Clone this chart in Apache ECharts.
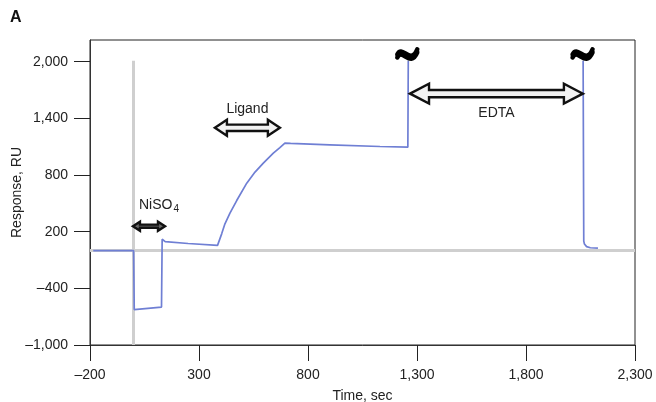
<!DOCTYPE html>
<html>
<head>
<meta charset="utf-8">
<script src="https://cdn.jsdelivr.net/npm/echarts@6/dist/echarts.min.js"></script>
<style>
  html, body { margin: 0; padding: 0; background: #fff; }
  #chart { width: 656px; height: 402px; }
</style>
</head>
<body>
<div id="chart"></div>
<script>
// SPR sensorgram: Ni2+ charging, ligand capture, EDTA regeneration
const sensorTime = [-185, 0, 3, 128, 131, 145, 250, 385,
  388, 404, 419, 442, 473, 519, 557, 595, 641, 671, 694,
  720, 900, 1130, 1258, 1260,
  1700,
  2062, 2065, 2068, 2078, 2095, 2130];
const sensorResp = [0, 0, -625, -598, 120, 95, 75, 55,
  55, 177, 283, 396, 530, 714, 831, 926, 1032, 1091, 1138,
  1135, 1120, 1102, 1095, 2010,
  null,
  2010, 100, 70, 42, 30, 26];

// injection periods (sec)
const injectionNames = ['NiSO4', 'Ligand', 'EDTA'];
const injectionStart = [-3, 373, 1268];
const injectionEnd = [144, 671, 2061];

// off-scale break markers (sec)
const breakTimes = [1260, 2064];

const xTicks = [-200, 300, 800, 1300, 1800, 2300];
const yTicks = [-1000, -400, 200, 800, 1400, 2000];

const FONT = 'Liberation Sans, Arial, Helvetica, sans-serif';
const fmt = v => (v < 0 ? '\u2013' : '') + Math.abs(v).toLocaleString('en-US');

const lineData = sensorTime.map((t, i) =>
  sensorResp[i] === null ? [t, '-'] : [t, sensorResp[i]]);

// arrow drawing parameters per injection
const arrowStyle = [
  { level: 258, L: 7, H: 4.5, s: 1.6, fill: '#6a6a6a', lw: 2.4, dy: -21 },
  { level: 1300, L: 12, H: 8, s: 3.2, fill: '#f2f2f2', lw: 2.4, dy: -19 },
  { level: 1662, L: 19, H: 10, s: 3.6, fill: '#f2f2f2', lw: 2.4, dy: 20 }
];
const arrowData = injectionNames.map((n, i) => [injectionStart[i], injectionEnd[i], arrowStyle[i].level, i]);

function renderArrow(params, api) {
  const i = api.value(3);
  const st = arrowStyle[i];
  const a = api.coord([api.value(0), api.value(2)]);
  const b = api.coord([api.value(1), api.value(2)]);
  const y = a[1], xa = a[0], xb = b[0];
  const { L, H, s } = st;
  const pts = [
    [xa, y], [xa + L, y - H], [xa + L, y - s], [xb - L, y - s], [xb - L, y - H],
    [xb, y], [xb - L, y + H], [xb - L, y + s], [xa + L, y + s], [xa + L, y + H]
  ];
  const name = injectionNames[i];
  const label = name === 'NiSO4' ? '{m|NiSO}{s|4}' : '{m|' + name + '}';
  const cx = (xa + xb) / 2 + (name === 'NiSO4' ? 10 : 0);
  return {
    type: 'group',
    children: [
      {
        type: 'polygon',
        shape: { points: pts },
        style: { fill: st.fill, stroke: '#111', lineWidth: st.lw, lineJoin: 'miter' }
      },
      {
        type: 'text',
        x: cx, y: y + st.dy,
        style: {
          text: label,
          align: 'center', verticalAlign: 'middle',
          rich: {
            m: { fontFamily: FONT, fontSize: 14, fill: '#222' },
            s: { fontFamily: FONT, fontSize: 10, fill: '#222', padding: [9, 0, 0, 1] }
          }
        }
      }
    ]
  };
}

function renderBreak(params, api) {
  const p = api.coord([api.value(0), api.value(1)]);
  return {
    type: 'group',
    x: p[0] - 1, y: p[1],
    children: [0, 3].map(off => ({
      type: 'bezierCurve',
      shape: { x1: -10, y1: off - 0.5, cpx1: -5, cpy1: -11 + off, cpx2: 3, cpy2: 11 + off, x2: 10, y2: -5.5 + off },
      style: { stroke: '#000', lineWidth: 4.5, fill: null, lineCap: 'round' }
    }))
  };
}

const chart = echarts.init(document.getElementById('chart'), null, { renderer: 'canvas' });
chart.setOption({
  animation: false,
  backgroundColor: '#fff',
  title: {
    text: 'A', left: 5, top: 5,
    textStyle: { fontFamily: FONT, fontSize: 16, fontWeight: 'bold', color: '#111' }
  },
  grid: {
    left: 90, right: 21, top: 40, bottom: 57,
    outerBoundsMode: 'none', containLabel: false,
    show: true, borderColor: '#222', borderWidth: 1
  },
  xAxis: {
    type: 'value', min: -200, max: 2300,
    name: 'Time, sec', nameLocation: 'middle', nameGap: 44, nameMoveOverlap: false,
    nameTextStyle: { fontFamily: FONT, fontSize: 14, color: '#222' },
    splitLine: { show: false },
    axisLine: { show: true, onZero: false, lineStyle: { color: '#333', width: 1 } },
    axisTick: { show: true, inside: false, length: 16, customValues: xTicks, lineStyle: { color: '#222' } },
    axisLabel: { customValues: xTicks, margin: 23, formatter: fmt, fontFamily: FONT, fontSize: 14, color: '#222' }
  },
  yAxis: {
    type: 'value', min: -1000, max: 2230,
    name: 'Response, RU', nameLocation: 'middle', nameGap: 66, nameMoveOverlap: false,
    nameTextStyle: { fontFamily: FONT, fontSize: 14, color: '#222' },
    splitLine: { show: false },
    axisLine: { show: true, onZero: false, lineStyle: { color: '#333', width: 1 } },
    axisTick: { show: true, inside: false, length: 16, customValues: yTicks, lineStyle: { color: '#222' } },
    axisLabel: { customValues: yTicks, margin: 22, formatter: fmt, fontFamily: FONT, fontSize: 14, color: '#222' }
  },
  series: [
    {
      type: 'line',
      data: [],
      silent: true,
      z: 1,
      markLine: {
        silent: true, symbol: 'none', label: { show: false }, z: 1,
        lineStyle: { color: '#cfcfcf', width: 3, type: 'solid' },
        data: [
          { yAxis: 0 },
          [{ coord: [0, -1000] }, { coord: [0, 2010] }]
        ]
      }
    },
    {
      type: 'line',
      data: lineData,
      showSymbol: false,
      connectNulls: false,
      lineStyle: { color: '#6f7fd4', width: 1.7 },
      z: 3
    },
    {
      type: 'custom',
      coordinateSystem: 'cartesian2d',
      renderItem: renderArrow,
      data: arrowData,
      encode: { x: [0, 1], y: 2 },
      clip: false,
      z: 4
    },
    {
      type: 'custom',
      coordinateSystem: 'cartesian2d',
      renderItem: renderBreak,
      data: breakTimes.map(t => [t, 2072]),
      encode: { x: 0, y: 1 },
      clip: false,
      z: 5
    }
  ]
});
</script>
</body>
</html>
